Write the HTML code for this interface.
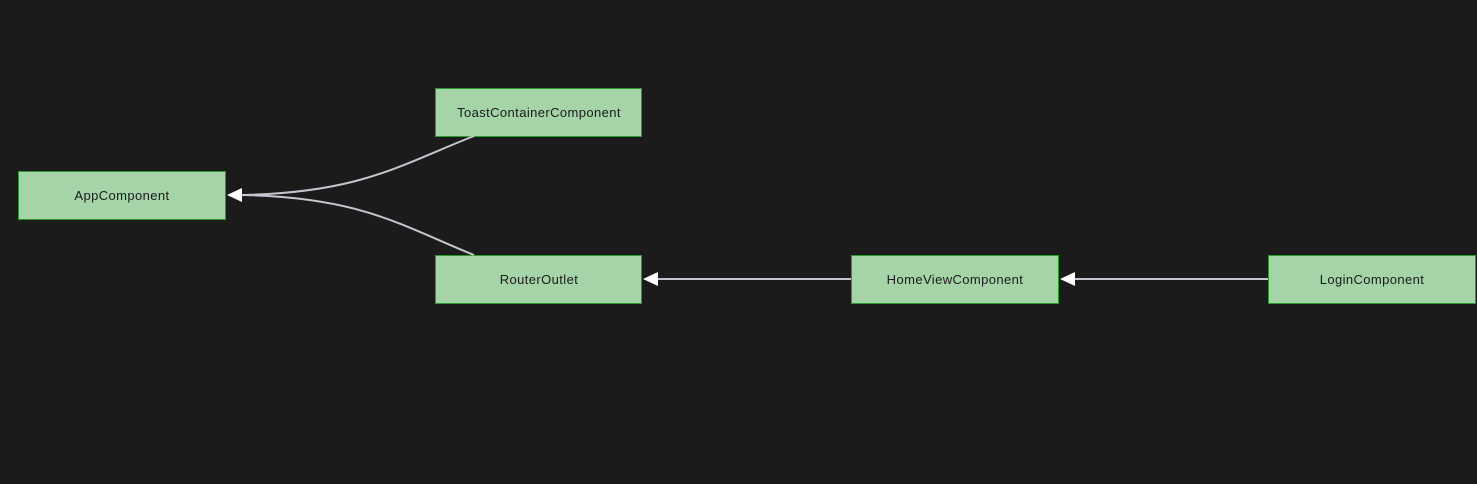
<!DOCTYPE html>
<html><head><style>
body{margin:0;background:#1b1b1b;width:1477px;height:484px;overflow:hidden}
svg{display:block}
text{font-family:"Liberation Sans",sans-serif;font-size:13px;letter-spacing:0.4px;fill:#1b1b1b}
</style></head><body>
<svg width="1477" height="484" viewBox="0 0 1477 484">
<g fill="#a5d4a9" stroke="#2b9a2b" stroke-width="1">
<rect x="18.5" y="171.5" width="207" height="48"/>
<rect x="435.5" y="88.5" width="206" height="48"/>
<rect x="435.5" y="255.5" width="206" height="48"/>
<rect x="851.5" y="255.5" width="207" height="48"/>
<rect x="1268.5" y="255.5" width="207" height="48"/>
</g>
<g fill="none" stroke="#c3c6cf" stroke-width="2">
<path d="M474,136 C400,165 360,193 240,195"/>
<path d="M474,255 C400,225 360,197 240,195"/>
<path d="M851,279 L656,279"/>
<path d="M1268,279 L1073,279"/>
</g>
<g fill="#fff">
<polygon points="227,195 242,188 242,202"/>
<polygon points="643,279 658,272 658,286"/>
<polygon points="1060,279 1075,272 1075,286"/>
</g>
<text x="122" y="200" text-anchor="middle">AppComponent</text>
<text x="539" y="117" text-anchor="middle">ToastContainerComponent</text>
<text x="539" y="284" text-anchor="middle">RouterOutlet</text>
<text x="955" y="284" text-anchor="middle">HomeViewComponent</text>
<text x="1372" y="284" text-anchor="middle">LoginComponent</text>
</svg>
</body></html>
